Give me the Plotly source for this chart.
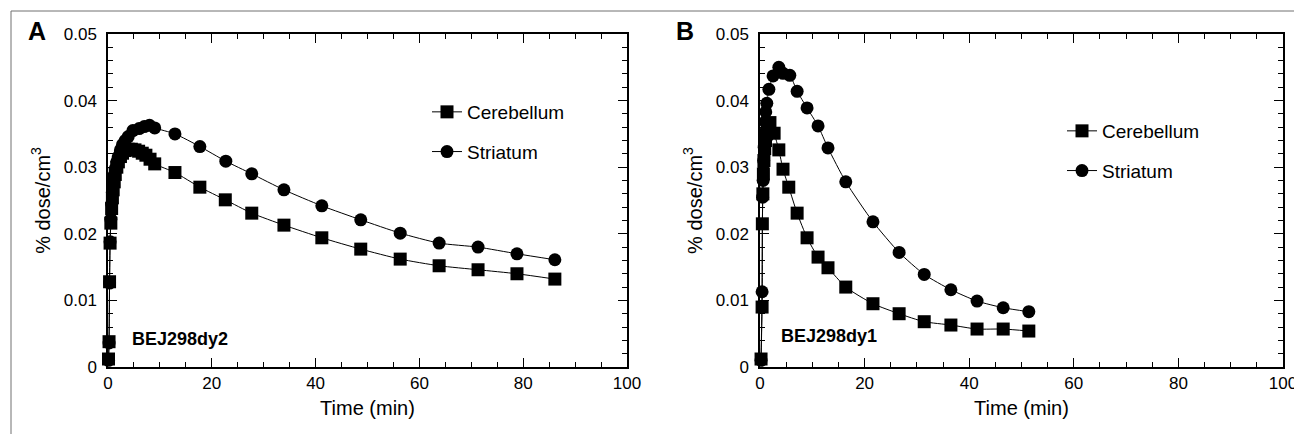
import plotly.graph_objects as go

W, H = 1302, 434

# ---- Panel A (BEJ298dy2) ----
tA_cer = [0.1, 0.2, 0.3, 0.4, 0.55, 0.7, 0.85, 1.0, 1.2, 1.4, 1.7, 2.0, 2.4, 2.8, 3.3, 3.9, 4.5, 5.2, 5.9, 6.6, 7.3, 8.1, 9.0,
          12.9, 17.7, 22.6, 27.7, 33.9, 41.2, 48.7, 56.3, 63.8, 71.3, 78.8, 86.1]
vA_cer = [0.0012, 0.0038, 0.0128, 0.0186, 0.0216, 0.0238, 0.0254, 0.0266, 0.0278, 0.0289, 0.0300, 0.0308, 0.0316, 0.0321,
          0.0325, 0.0327, 0.0327, 0.0326, 0.0324, 0.0321, 0.0318, 0.0312, 0.0305,
          0.0292, 0.0270, 0.0251, 0.0231, 0.0213, 0.0194, 0.0177, 0.0162, 0.0152, 0.0146, 0.0140, 0.0132]
tA_str = [0.1, 0.2, 0.3, 0.4, 0.55, 0.7, 0.85, 1.0, 1.2, 1.4, 1.7, 2.0, 2.4, 2.8, 3.3, 3.9, 4.8, 6.0, 7.0, 8.0, 9.0,
          12.9, 17.7, 22.7, 27.7, 33.9, 41.2, 48.7, 56.3, 63.8, 71.3, 78.8, 86.1]
vA_str = [0.0010, 0.0036, 0.0126, 0.0188, 0.0222, 0.0245, 0.0262, 0.0275, 0.0288, 0.0298, 0.0308, 0.0316, 0.0326, 0.0334,
          0.0340, 0.0346, 0.0355, 0.0358, 0.0361, 0.0363, 0.0359,
          0.0350, 0.0331, 0.0309, 0.0290, 0.0266, 0.0242, 0.0221, 0.0201, 0.0186, 0.0180, 0.0170, 0.0161]

# ---- Panel B (BEJ298dy1) ----
tB_cer = [0.2, 0.4, 0.45, 0.55, 0.65, 0.75, 0.9, 1.05, 1.25, 1.5, 1.9, 2.7, 3.6, 4.4, 5.5, 7.1, 9.0, 11.1, 13.0, 16.4,
          21.6, 26.6, 31.4, 36.5, 41.5, 46.5, 51.4]
vB_cer = [0.0012, 0.0090, 0.0215, 0.0260, 0.0290, 0.0310, 0.0328, 0.0340, 0.0350, 0.0358, 0.0367, 0.0351, 0.0326, 0.0297,
          0.0270, 0.0231, 0.0194, 0.0165, 0.0149, 0.0120, 0.0095, 0.0080, 0.0068, 0.0063, 0.0057, 0.0057, 0.0054]
tB_str = [0.2, 0.4, 0.5, 0.6, 0.7, 0.8, 0.9, 1.0, 1.1, 1.3, 1.7, 2.5, 3.6, 4.4, 5.7, 7.1, 9.0, 11.1, 13.0, 16.4, 21.6,
          26.6, 31.4, 36.5, 41.5, 46.5, 51.4]
vB_str = [0.0010, 0.0113, 0.0255, 0.0280, 0.0310, 0.0330, 0.0350, 0.0368, 0.0383, 0.0396, 0.0417, 0.0437, 0.0450, 0.0441,
          0.0438, 0.0414, 0.0389, 0.0362, 0.0329, 0.0278, 0.0218, 0.0172, 0.0139, 0.0116, 0.0099, 0.0089, 0.0083]

series_names = ["Cerebellum", "Striatum"]
panel_ids = ["BEJ298dy2", "BEJ298dy1"]
panel_letters = ["A", "B"]
x_title = "Time (min)"
y_title = "% dose/cm<sup>3</sup>"

FONT = "Liberation Sans, Arial, Helvetica, sans-serif"

# the page body has an 8px margin, so target screen pixels are shifted by OFF
OFF = 8
# plot region in screen pixels
L, R, T, B = 108, 1283, 34, 367
PW, PH = R - L, B - T


def px(x):
    return (x - L) / PW


def py(y):
    return (B - y) / PH


fig = go.Figure()


def add_series(t, v, name, symbol, xa, ya, legend):
    fig.add_trace(go.Scatter(
        x=t, y=v, name=name, mode="lines+markers",
        line=dict(color="black", width=1, shape="spline", smoothing=0.6),
        marker=dict(symbol=symbol, size=13, color="black", line=dict(width=0)),
        xaxis=xa, yaxis=ya, legend=legend, legendgroup=legend + name,
        cliponaxis=False,
    ))


add_series(tA_cer, vA_cer, series_names[0], "square", "x", "y", "legend")
add_series(tA_str, vA_str, series_names[1], "circle", "x", "y", "legend")
add_series(tB_cer, vB_cer, series_names[0], "square", "x2", "y2", "legend2")
add_series(tB_str, vB_str, series_names[1], "circle", "x2", "y2", "legend2")

common_x = dict(range=[0, 100], dtick=20, tick0=0, ticks="inside", ticklen=9, tickwidth=1,
                showline=True, linewidth=1.5, linecolor="black", mirror="ticks",
                showgrid=False, zeroline=False, tickcolor="black", automargin=False,
                tickfont=dict(family=FONT, size=17, color="black"),
                minor=dict(dtick=5, ticks="inside", ticklen=5, tickwidth=1, tickcolor="black", showgrid=False),
                title=dict(text=x_title, font=dict(family=FONT, size=20, color="black"), standoff=9))
common_y = dict(range=[0, 0.05], dtick=0.01, tick0=0, ticks="inside", ticklen=9, tickwidth=1,
                showline=True, linewidth=1.5, linecolor="black", mirror="ticks",
                showgrid=False, zeroline=False, tickcolor="black", automargin=False,
                tickfont=dict(family=FONT, size=17, color="black"), ticklabelstandoff=6,
                minor=dict(dtick=0.002, ticks="inside", ticklen=5, tickwidth=1, tickcolor="black", showgrid=False),
                title=dict(text=y_title, font=dict(family=FONT, size=20, color="black"), standoff=8),
                domain=[0, 1])

fig.update_layout(
    width=W, height=H,
    margin=dict(l=L - OFF, r=W - R + OFF, t=T - OFF, b=H - B + OFF, autoexpand=False),
    paper_bgcolor="white", plot_bgcolor="white",
    font=dict(family=FONT, color="black"),
    xaxis=dict(domain=[0, px(627)], anchor="y", **common_x),
    yaxis=dict(anchor="x", **common_y),
    xaxis2=dict(domain=[px(760), 1], anchor="y2", **common_x),
    yaxis2=dict(anchor="x2", **common_y),
    legend=dict(x=px(427), y=py(93), xanchor="left", yanchor="top", bgcolor="rgba(0,0,0,0)",
                font=dict(family=FONT, size=19, color="black"), tracegroupgap=12, itemsizing="trace"),
    legend2=dict(x=px(1062), y=py(112), xanchor="left", yanchor="top", bgcolor="rgba(0,0,0,0)",
                 font=dict(family=FONT, size=19, color="black"), tracegroupgap=12, itemsizing="trace"),
    showlegend=True,
)

# panel letters and run ids
fig.add_annotation(x=px(37), y=py(31), xref="paper", yref="paper", text="<b>" + panel_letters[0] + "</b>",
                   xanchor="center", yanchor="middle", showarrow=False,
                   font=dict(family=FONT, size=25, color="black"))
fig.add_annotation(x=px(685), y=py(31), xref="paper", yref="paper", text="<b>" + panel_letters[1] + "</b>",
                   xanchor="center", yanchor="middle", showarrow=False,
                   font=dict(family=FONT, size=25, color="black"))
fig.add_annotation(x=4.2, y=0.0042, xref="x", yref="y", text="<b>" + panel_ids[0] + "</b>", showarrow=False,
                   xanchor="left", yanchor="middle", font=dict(family=FONT, size=18, color="black"))
fig.add_annotation(x=3.6, y=0.0047, xref="x2", yref="y2", text="<b>" + panel_ids[1] + "</b>", showarrow=False,
                   xanchor="left", yanchor="middle", font=dict(family=FONT, size=18, color="black"))

# outer frame (top and left edges)
fig.add_shape(type="line", xref="paper", yref="paper", x0=px(11), x1=px(W + OFF), y0=py(11), y1=py(11),
              line=dict(color="#707070", width=1))
fig.add_shape(type="line", xref="paper", yref="paper", x0=px(11), x1=px(11), y0=py(H + OFF), y1=py(11),
              line=dict(color="#707070", width=1))

fig.write_html("out.html")
